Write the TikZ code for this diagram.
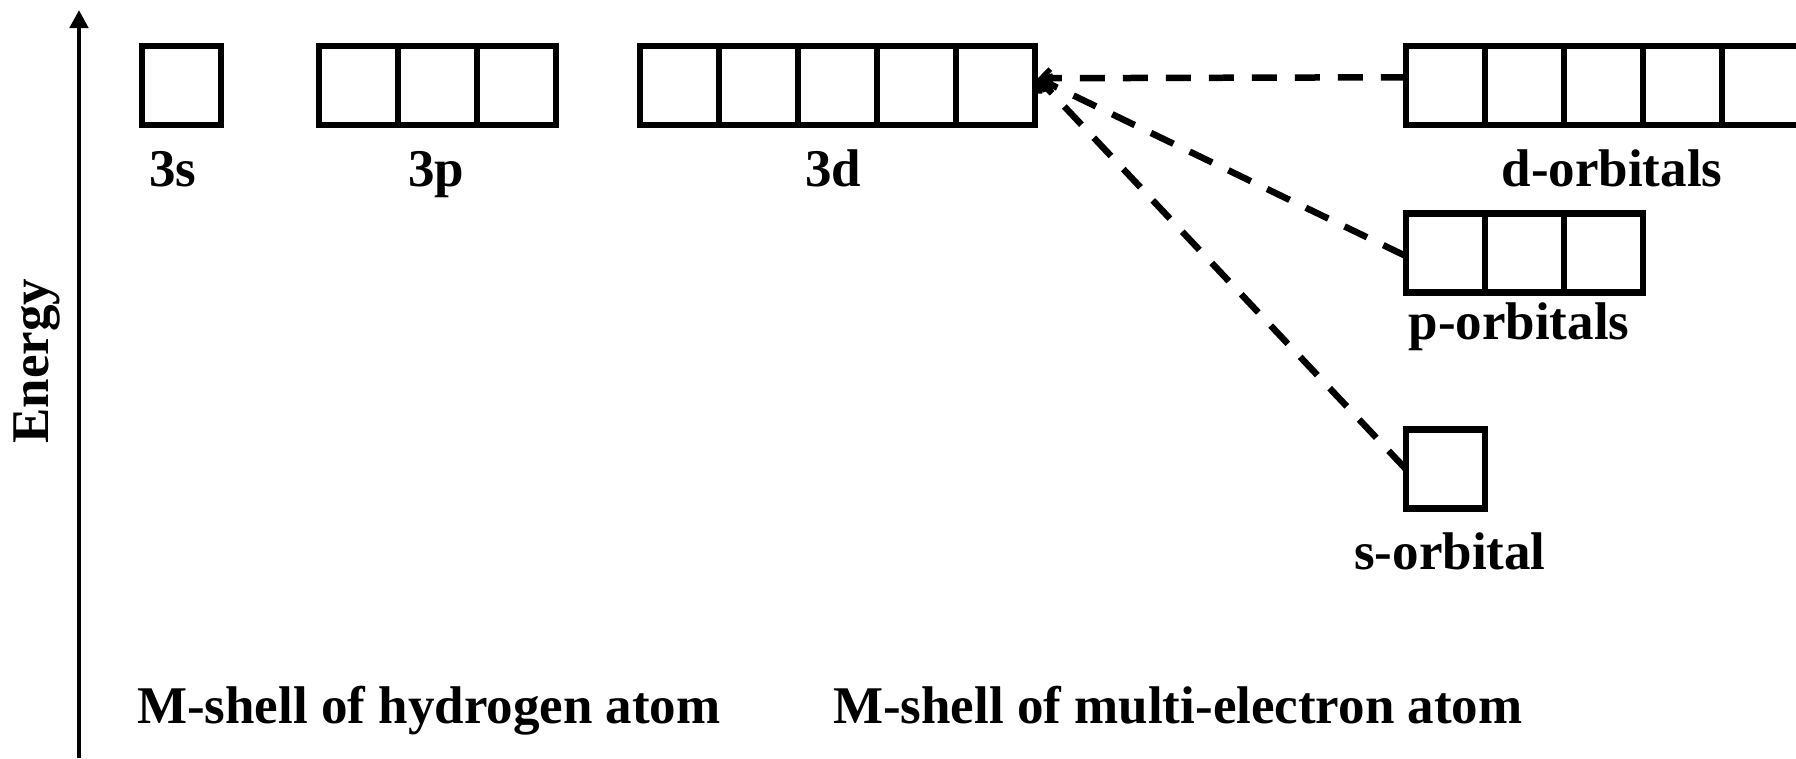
\documentclass[tikz,border=0pt]{standalone}
\usepackage{fontspec}
\setmainfont{Liberation Serif}
\usetikzlibrary{arrows.meta,calc,positioning}
\begin{document}
\begin{tikzpicture}[x=1pt,y=-1pt,
  cell/.style={draw, line width=6.2pt, minimum width=79pt, minimum height=79pt, inner sep=0pt, outer sep=0pt},
  lbl/.style={font=\fontsize{53}{60}\selectfont\bfseries, inner sep=0pt, anchor=base},
  dline/.style={line width=6.5pt, dash pattern=on 25pt off 18pt, -{Straight Barb[length=9pt,width=18pt,line width=5pt]}},
  axis/.style={line width=4.8pt, -{Triangle[length=18pt,width=18pt]}}]
\clip (0,0) rectangle (1796,758);
% axis
\coordinate (axb) at (79,758);
\coordinate (axt) at (79,10);
\draw[axis] (axb) -- (axt);
\node[lbl, rotate=90, anchor=center] (energy) at (37,361) {Energy};
% hydrogen M shell
\node[cell] (s3) at (181.5,85.25) {};
\node[cell] (p31) at (358.25,85.25) {};
\node[cell, right=0pt of p31] (p32) {};
\node[cell, right=0pt of p32] (p33) {};
\node[cell] (d31) at (679.25,85.25) {};
\node[cell, right=0pt of d31] (d32) {};
\node[cell, right=0pt of d32] (d33) {};
\node[cell, right=0pt of d33] (d34) {};
\node[cell, right=0pt of d34] (d35) {};
% multi-electron
\node[cell] (d1) at (1445.25,85.25) {};
\node[cell, right=0pt of d1] (d2) {};
\node[cell, right=0pt of d2] (d3) {};
\node[cell, right=0pt of d3] (d4) {};
\node[cell, right=0pt of d4] (d5) {};
\node[cell] (pp1) at (1445.25,253) {};
\node[cell, right=0pt of pp1] (pp2) {};
\node[cell, right=0pt of pp2] (pp3) {};
\node[cell] (ss) at (1445.25,469) {};
% labels
\node[lbl] (l3s) at (173,186) {3s};
\node[lbl] (l3p) at (436,186) {3p};
\node[lbl] (l3d) at (833,186) {3d};
\node[lbl] (ld) at (1612,186) {d-orbitals};
\node[lbl] (lp) at (1519,339) {p-orbitals};
\node[lbl] (ls) at (1450,569) {s-orbital};
\node[lbl, anchor=base west] (lh) at (137,723) {M-shell of hydrogen atom};
\node[lbl, anchor=base west] (lm) at (833,723) {M-shell of multi-electron atom};
% connectors
\coordinate (tip) at ([xshift=3pt,yshift=7pt]d35.east);
\draw[dline] ([yshift=8pt]d1.west) -- (tip);
\draw[dline] ([yshift=-3pt]pp1.west) -- (tip);
\draw[dline] (ss.west) -- (tip);
\end{tikzpicture}
\end{document}
